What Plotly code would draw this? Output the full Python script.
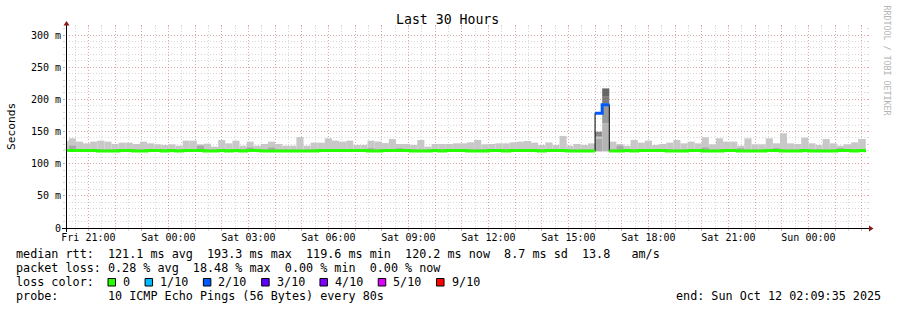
import pandas as pd
import plotly.graph_objects as go

# ---------------- data ----------------
START = "2025-10-10 20:09:35"
END = "2025-10-12 02:09:35"
FIRST_BIN = "2025-10-10 20:00:00"   # 16-minute consolidated bins
BIN_MINUTES = 16

median_ms = [
    120.6, 120.6, 120.6, 120.6, 120.6, 119.8, 119.8, 119.8, 120.6, 120.6,
    119.8, 119.8, 120.6, 120.6, 119.8, 120.6, 119.8, 120.6, 120.6, 120.6,
    119.8, 119.8, 120.6, 119.8, 120.6, 119.8, 120.6, 120.6, 119.8, 119.8,
    119.8, 119.8, 119.8, 119.8, 119.8, 119.8, 120.6, 120.6, 120.6, 120.6,
    120.6, 120.6, 120.6, 119.8, 119.8, 120.6, 120.6, 120.6, 120.6, 119.8,
    119.8, 119.8, 120.6, 119.8, 120.6, 120.6, 120.6, 119.8, 119.8, 119.8,
    120.6, 120.6, 119.8, 120.6, 120.6, 120.6, 120.6, 119.8, 120.6, 120.6,
    120.6, 119.8, 119.8, 119.8, 119.8, 178.5, 191.7, 119.8, 119.8, 120.6,
    119.8, 120.6, 120.6, 120.6, 120.6, 119.8, 119.8, 119.8, 120.6, 120.6,
    119.8, 119.8, 119.8, 120.6, 120.6, 119.8, 119.8, 119.8, 119.8, 120.6,
    120.6, 119.8, 119.8, 119.8, 120.6, 119.8, 119.8, 119.8, 119.8, 120.6,
    120.6, 119.8, 120.6, 120.2,
]

smoke_max = [
    135.2, 139.4, 134.3, 131.6, 134.3, 135.8, 134.3, 130.6, 132.7, 132.7,
    130.6, 134.3, 131.6, 130.1, 129.1, 130.1, 128.0, 135.8, 135.8, 130.1,
    131.1, 126.5, 136.8, 131.6, 135.8, 128.0, 134.3, 128.0, 130.6, 134.3,
    130.6, 128.0, 128.0, 141.5, 128.0, 132.7, 132.7, 139.4, 135.8, 134.3,
    135.8, 129.1, 129.1, 135.8, 134.3, 132.0, 138.3, 130.6, 130.6, 129.1,
    136.8, 126.5, 130.6, 130.6, 130.6, 131.6, 131.6, 133.2, 136.8, 130.1,
    130.6, 131.6, 131.6, 133.2, 134.3, 135.2, 132.7, 129.1, 133.0, 129.1,
    143.0, 128.0, 130.6, 129.1, 131.6, None, None, 134.3, 130.6, 128.0,
    136.8, 132.7, 135.8, 129.1, 130.6, 132.7, 136.8, 131.6, 134.3, 131.6,
    141.0, 130.1, 139.4, 134.3, 134.3, 128.0, 139.4, 130.1, 130.1, 139.4,
    131.6, 147.2, 131.6, 130.6, 140.4, 131.6, 129.1, 138.3, 131.6, 128.0,
    130.1, 133.2, 138.3, 138.3,
]

smoke_mid = [
    122.0, 128.0, 122.0, 122.0, 122.0, 122.0, 122.0, 122.0, 122.0, 122.0,
    122.0, 122.0, 122.0, 122.0, 122.0, 122.0, 122.0, 122.0, 122.0, 128.0,
    122.0, 122.0, 122.0, 122.0, 122.0, 122.0, 125.0, 122.0, 122.0, 125.0,
    122.0, 122.0, 122.0, 122.0, 122.0, 122.0, 122.0, 122.0, 122.0, 122.0,
    122.0, 122.0, 122.0, 124.0, 122.0, 122.0, 122.0, 124.0, 122.0, 122.0,
    122.0, 122.0, 122.0, 122.0, 122.0, 122.0, 122.0, 122.0, 122.0, 122.0,
    122.0, 122.0, 122.0, 122.0, 122.0, 122.0, 122.0, 122.0, 122.0, 122.0,
    122.0, 122.0, 122.0, 122.0, 122.0, None, None, 122.0, 128.0, 122.0,
    122.0, 122.0, 122.0, 122.0, 122.0, 122.0, 122.0, 122.0, 122.0, 122.0,
    125.0, 122.0, 122.0, 122.0, 122.0, 124.0, 122.0, 122.0, 122.0, 122.0,
    124.0, 122.0, 122.0, 122.0, 122.0, 122.0, 122.0, 122.0, 122.0, 124.0,
    122.0, 122.0, 122.0, 122.0,
]

smoke_min = 119.0

# loss class index per bin (0 -> "0", 2 -> "2/10")
loss_class = [
    0, 0, 0, 0, 0, 0, 0, 0, 0, 0, 0, 0, 0, 0, 0, 0, 0, 0, 0, 0,
    0, 0, 0, 0, 0, 0, 0, 0, 0, 0, 0, 0, 0, 0, 0, 0, 0, 0, 0, 0,
    0, 0, 0, 0, 0, 0, 0, 0, 0, 0, 0, 0, 0, 0, 0, 0, 0, 0, 0, 0,
    0, 0, 0, 0, 0, 0, 0, 0, 0, 0, 0, 0, 0, 0, 0, 2, 2, 0, 0, 0,
    0, 0, 0, 0, 0, 0, 0, 0, 0, 0, 0, 0, 0, 0, 0, 0, 0, 0, 0, 0,
    0, 0, 0, 0, 0, 0, 0, 0, 0, 0, 0, 0, 0, 0,
]

# smoke layers of the two lossy bins
spike_bin = [75, 75, 75, 76, 76, 76, 76]
spike_lo = [119.0, 139.4, 142.0, 119.0, 162.7, 194.0, 205.0]
spike_hi = [139.4, 142.0, 149.7, 162.7, 194.0, 205.0, 217.0]
spike_col = ["#a9a9a9", "#c4c4c4", "#8a8a8a", "#b4b4b4", "#9a9a9a", "#7a7a7a", "#666666"]

loss_labels = ["0", "1/10", "2/10", "3/10", "4/10", "5/10", "9/10"]
loss_colors = ["#26ff00", "#00b8ff", "#0059ff", "#5e00ff", "#7e00ff", "#dd00ff", "#ff0000"]

x_labels = ["Fri 21:00", "Sat 00:00", "Sat 03:00", "Sat 06:00", "Sat 09:00",
            "Sat 12:00", "Sat 15:00", "Sat 18:00", "Sat 21:00", "Sun 00:00"]
y_ticks = [0, 50, 100, 150, 200, 250, 300]
y_labels = ["0", "50 m", "100 m", "150 m", "200 m", "250 m", "300 m"]

legend_lines = [
    "median rtt:  121.1 ms avg  193.3 ms max  119.6 ms min  120.2 ms now  8.7 ms sd  13.8   am/s",
    "packet loss: 0.28 % avg  18.48 % max  0.00 % min  0.00 % now",
    "loss color:",
    "probe:       10 ICMP Echo Pings (56 Bytes) every 80s",
]
end_text = "end: Sun Oct 12 02:09:35 2025"

# ---------------- geometry ----------------
W, H = 897, 310
L, R, T, B = 66, 31, 28, 82
PW, PH = W - L - R, H - T - B
YMAX = 310.9
FONT = "DejaVu Sans Mono"
MGRID = "rgba(230,90,90,0.38)"
GRID = "rgba(150,150,150,0.38)"


def px(x):
    return (x - L) / PW


def py(y):
    return (T + PH - y) / PH


step = pd.Timedelta(minutes=BIN_MINUTES)
bins = pd.date_range(FIRST_BIN, periods=len(median_ms), freq=f"{BIN_MINUTES}min")
width_ms = step.total_seconds() * 1000

fig = go.Figure()


def heights(top, lo):
    return [None if t is None else t - lo for t in top]


fig.add_trace(go.Bar(x=bins, y=heights(smoke_max, smoke_min), base=smoke_min,
                     width=width_ms, offset=0, marker=dict(color="#c8c8c8", line=dict(width=0)),
                     hoverinfo="skip"))
fig.add_trace(go.Bar(x=bins, y=heights(smoke_mid, smoke_min), base=smoke_min,
                     width=width_ms, offset=0, marker=dict(color="#a8a8a8", line=dict(width=0)),
                     hoverinfo="skip"))
fig.add_trace(go.Bar(x=[bins[i] for i in spike_bin],
                     y=[h - l for l, h in zip(spike_lo, spike_hi)], base=spike_lo,
                     width=width_ms, offset=0, marker=dict(color=spike_col, line=dict(width=0)),
                     hoverinfo="skip"))

edges = list(bins) + [bins[-1] + step]
fig.add_trace(go.Scatter(x=edges, y=median_ms + [median_ms[-1]], mode="lines",
                         line=dict(shape="hv", color="#000000", width=1), hoverinfo="skip"))

n = len(median_ms)
for cls in sorted(set(loss_class)):
    xs, ys = [], []
    i = 0
    while i < n:
        if loss_class[i] == cls:
            j = i
            while j < n and loss_class[j] == cls:
                j += 1
            for k in range(i, j):
                xs.append(bins[k])
                ys.append(median_ms[k])
            xs.append(bins[j - 1] + step)
            ys.append(median_ms[j - 1])
            xs.append(None)
            ys.append(None)
            i = j
        else:
            i += 1
    fig.add_trace(go.Scatter(x=xs, y=ys, mode="lines",
                             line=dict(shape="hv", color=loss_colors[cls], width=3),
                             hoverinfo="skip"))

hours = pd.date_range("2025-10-10 21:00", "2025-10-12 02:00", freq="h")
hour_text = [x_labels[k // 3] if k % 3 == 0 else "" for k in range(len(hours))]

fig.update_layout(
    width=W, height=H, margin=dict(l=L, r=R, t=T, b=B, pad=0),
    paper_bgcolor="white", plot_bgcolor="white", showlegend=False,
    barmode="overlay", font=dict(family=FONT, color="#000000"),
    xaxis=dict(type="date", range=[START, END], tickmode="array", tickvals=hours, ticktext=hour_text,
               showgrid=True, gridcolor=MGRID, griddash="1px,2px", gridwidth=1,
               ticks="outside", ticklen=2, tickcolor=MGRID, mirror="ticks",
               ticklabelstandoff=-2,
               tickfont=dict(family=FONT, size=10, color="#000000"),
               showline=False, zeroline=False, fixedrange=True,
               minor=dict(dtick=1800000, tick0="2025-10-10 20:30", showgrid=True,
                          gridcolor=GRID, griddash="1px,2px", gridwidth=1,
                          ticks="outside", ticklen=2, tickcolor=GRID)),
    yaxis=dict(range=[0, YMAX], tickmode="array", tickvals=y_ticks, ticktext=y_labels,
               showgrid=True, gridcolor=MGRID, griddash="1px,2px", gridwidth=1,
               ticks="outside", ticklen=2, tickcolor=MGRID, mirror="ticks",
               tickfont=dict(family=FONT, size=10, color="#000000"),
               showline=False, zeroline=False, fixedrange=True,
               minor=dict(dtick=10, showgrid=True, gridcolor=GRID, griddash="1px,2px",
                          gridwidth=1, ticks="outside", ticklen=2, tickcolor=GRID)),
)

shapes = []
# axes with arrows
shapes.append(dict(type="line", xref="paper", yref="paper", x0=px(62), x1=px(870),
                   y0=py(228.5), y1=py(228.5), line=dict(color="#000000", width=1), layer="above"))
shapes.append(dict(type="line", xref="paper", yref="paper", x0=px(66.5), x1=px(66.5),
                   y0=py(232), y1=py(24), line=dict(color="#000000", width=1), layer="above"))
shapes.append(dict(type="path", xref="paper", yref="paper",
                   path=f"M {px(869)} {py(225.5)} L {px(873.5)} {py(228.5)} L {px(869)} {py(231.5)} Z",
                   fillcolor="#8b1a1a", line=dict(width=0), layer="above"))
shapes.append(dict(type="path", xref="paper", yref="paper",
                   path=f"M {px(63.5)} {py(25.5)} L {px(66.5)} {py(21)} L {px(69.5)} {py(25.5)} Z",
                   fillcolor="#8b1a1a", line=dict(width=0), layer="above"))

annotations = []
annotations.append(dict(text="Last 30 Hours", xref="paper", yref="paper", x=px(447.5), y=py(20),
                        xanchor="center", yanchor="middle", showarrow=False,
                        font=dict(family=FONT, size=13.2, color="#000000")))
annotations.append(dict(text="Seconds", xref="paper", yref="paper", x=px(11), y=py(126),
                        xanchor="center", yanchor="middle", textangle=-90, showarrow=False,
                        font=dict(family=FONT, size=11.2, color="#000000")))
annotations.append(dict(text="RRDTOOL / TOBI OETIKER", xref="paper", yref="paper", x=px(886.5),
                        y=py(60), xanchor="center", yanchor="middle", textangle=90, showarrow=False,
                        font=dict(family=FONT, size=8.3, color="#b4b4b4")))

line_y = [254.3, 268.3, 282.3, 296.3]
for txt, yy in zip(legend_lines, line_y):
    annotations.append(dict(text=txt.replace(" ", "&nbsp;"), xref="paper", yref="paper", x=px(14),
                            y=py(yy), xanchor="left", yanchor="middle", showarrow=False,
                            font=dict(family=FONT, size=11.75, color="#000000")))
annotations.append(dict(text=end_text.replace(" ", "&nbsp;"), xref="paper", yref="paper", x=px(882.7),
                        y=py(296.3), xanchor="right", yanchor="middle", showarrow=False,
                        font=dict(family=FONT, size=11.75, color="#000000")))

cw = 0.602 * 11.75
xpos = 108.0
for lab, col in zip(loss_labels, loss_colors):
    shapes.append(dict(type="rect", xref="paper", yref="paper", x0=px(xpos), x1=px(xpos + 7.5),
                       y0=py(286), y1=py(278.5), fillcolor=col,
                       line=dict(color="#000000", width=1), layer="above"))
    annotations.append(dict(text=lab, xref="paper", yref="paper", x=px(xpos + 13), y=py(282.3),
                            xanchor="left", yanchor="middle", showarrow=False,
                            font=dict(family=FONT, size=11.75, color="#000000")))
    xpos = xpos + 15 + len(lab) * cw + 15

fig.update_layout(shapes=shapes, annotations=annotations)
fig.write_html("out.html")
